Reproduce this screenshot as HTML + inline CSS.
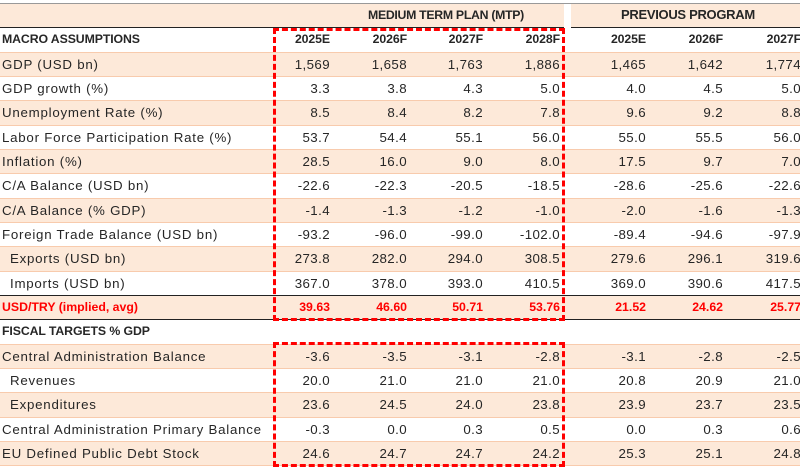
<!DOCTYPE html>
<html><head><meta charset="utf-8">
<style>
body{margin:0;width:800px;height:469px;overflow:hidden;background:#fff;font-family:"Liberation Sans",sans-serif;font-size:13.3px;color:#262626;position:relative}
.row{position:absolute;left:0;width:800px;height:24px;border-bottom:1px solid #f8cbad;box-sizing:border-box}
.pe{background:#fde9d9}
.c{position:absolute;top:4px;white-space:nowrap}
.lab{left:2px;letter-spacing:0.75px}
.num{text-align:right;width:70px;letter-spacing:0.4px}
.b{font-weight:bold;font-size:12.3px;letter-spacing:-0.1px}
.red{color:#ff0000;font-weight:bold;font-size:12.3px;letter-spacing:0}
.line{position:absolute;height:1px;background:#222}
.box{position:absolute;border:3px dashed #ff0000;box-sizing:border-box}
</style></head><body>
<div class="line" style="left:0;top:3px;width:800px;background:#999"></div>
<div id="t"></div>
<script>
const rights=[330,407,483,560,646,723,801];
const rows=[
 ["","",0,1,"hdr"],
 ["MACRO ASSUMPTIONS",["2025E","2026F","2027F","2028F","2025E","2026F","2027F"],0,0,"b"],
 ["GDP (USD bn)",["1,569","1,658","1,763","1,886","1,465","1,642","1,774"],0,1],
 ["GDP growth (%)",["3.3","3.8","4.3","5.0","4.0","4.5","5.0"],0,0],
 ["Unemployment Rate (%)",["8.5","8.4","8.2","7.8","9.6","9.2","8.8"],0,1],
 ["Labor Force Participation Rate (%)",["53.7","54.4","55.1","56.0","55.0","55.5","56.0"],0,0],
 ["Inflation (%)",["28.5","16.0","9.0","8.0","17.5","9.7","7.0"],0,1],
 ["C/A Balance (USD bn)",["-22.6","-22.3","-20.5","-18.5","-28.6","-25.6","-22.6"],0,0],
 ["C/A Balance (% GDP)",["-1.4","-1.3","-1.2","-1.0","-2.0","-1.6","-1.3"],0,1],
 ["Foreign Trade Balance (USD bn)",["-93.2","-96.0","-99.0","-102.0","-89.4","-94.6","-97.9"],0,0],
 ["Exports (USD bn)",["273.8","282.0","294.0","308.5","279.6","296.1","319.6"],1,1],
 ["Imports (USD bn)",["367.0","378.0","393.0","410.5","369.0","390.6","417.5"],1,0],
 ["USD/TRY (implied, avg)",["39.63","46.60","50.71","53.76","21.52","24.62","25.77"],0,1,"red"],
 ["FISCAL TARGETS % GDP",[],0,0,"b"],
 ["Central Administration Balance",["-3.6","-3.5","-3.1","-2.8","-3.1","-2.8","-2.5"],0,1],
 ["Revenues",["20.0","21.0","21.0","21.0","20.8","20.9","21.0"],1,0],
 ["Expenditures",["23.6","24.5","24.0","23.8","23.9","23.7","23.5"],1,1],
 ["Central Administration Primary Balance",["-0.3","0.0","0.3","0.5","0.0","0.3","0.6"],0,0],
 ["EU Defined Public Debt Stock",["24.6","24.7","24.7","24.2","25.3","25.1","24.8"],0,1]
];
const t=document.getElementById('t');
rows.forEach((r,i)=>{
 const d=document.createElement('div');
 
 
 d.className='row'+(r[3]?' pe':'');
 d.style.top=(4+i*24.33)+'px';d.style.height='24.33px';
 if(r[4]==='hdr'){
  d.style.borderBottom='none';
  const a=document.createElement('div');
  
  
  a.className='c b';a.style.left='368px';a.style.letterSpacing='-0.3px';a.textContent='MEDIUM TERM PLAN (MTP)';d.appendChild(a);
  const p=document.createElement('div');
  
  
  p.className='c b';p.style.left='621px';p.style.fontSize='13px';p.style.letterSpacing='-0.3px';p.style.top='3px';p.textContent='PREVIOUS PROGRAM';d.appendChild(p);
  const g=document.createElement('div');
  
  
  g.style.cssText='position:absolute;left:564px;top:0;width:7px;height:100%;background:#fff';d.appendChild(g);
 } else {
  const l=document.createElement('div');
  
  
  l.className='c lab'+(r[4]==='b'?' b':'')+(r[4]==='red'?' red':'');
  if(r[2])l.style.left='10px';
  l.textContent=r[0];d.appendChild(l);
  r[1].forEach((v,j)=>{
   const n=document.createElement('div');
   
   
   n.className='c num'+(r[4]==='b'?' b':'')+(r[4]==='red'?' red':'');
   n.style.left=(rights[j]-70)+'px';n.textContent=v;d.appendChild(n);
  });
 }
 t.appendChild(d);
});
</script>
<div class="line" style="left:0;top:27px;width:564px"></div>
<div class="line" style="left:571px;top:27px;width:229px"></div>
<div class="line" style="left:0;top:295px;width:800px"></div>
<div class="line" style="left:0;top:319px;width:800px"></div>
<div class="box" style="left:273px;top:28px;width:292px;height:293px"></div>
<div class="box" style="left:273px;top:342px;width:292px;height:125px"></div>
</body></html>
